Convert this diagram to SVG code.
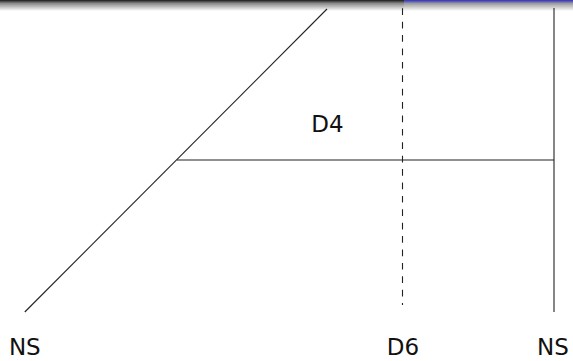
<svg xmlns="http://www.w3.org/2000/svg" width="573" height="361" viewBox="0 0 573 361">
  <defs>
    <linearGradient id="hdrL" x1="0" y1="0" x2="0" y2="1">
      <stop offset="0" stop-color="#1a1a1a"/>
      <stop offset="0.3" stop-color="#888888"/>
      <stop offset="1" stop-color="#ffffff"/>
    </linearGradient>
    <linearGradient id="hdrR" x1="0" y1="0" x2="0" y2="1">
      <stop offset="0" stop-color="#3333b3"/>
      <stop offset="0.18" stop-color="#6a6ab8"/>
      <stop offset="0.3" stop-color="#9a9a9a"/>
      <stop offset="1" stop-color="#ffffff"/>
    </linearGradient>
  </defs>
  <style>
    .ln { stroke: #222; stroke-width: 1.1; fill: none; }
    .dash { stroke-dasharray: 6.7 6.7; }
    .lbl { font-family: "DejaVu Sans", sans-serif; font-size: 23px; fill: #111; text-anchor: middle; }
  </style>
  <rect width="573" height="361" fill="#ffffff"/>
  <rect x="0" y="0" width="404" height="11" fill="url(#hdrL)"/>
  <rect x="404" y="0" width="169" height="11" fill="url(#hdrR)"/>
  <g id="connectors">
    <line class="ln" x1="24.8" y1="312" x2="327" y2="9"/>
    <line class="ln" x1="177" y1="160" x2="554" y2="160"/>
    <line class="ln dash" x1="402.5" y1="8.3" x2="402.5" y2="305"/>
    <line class="ln" x1="554" y1="8" x2="554" y2="312"/>
  </g>
  <g id="D4"><text class="lbl" x="327.5" y="132">D4</text></g>
  <g id="NS-left"><text class="lbl" x="24.8" y="355">NS</text></g>
  <g id="D6"><text class="lbl" x="403" y="355">D6</text></g>
  <g id="NS-right"><text class="lbl" x="553" y="355">NS</text></g>
</svg>
